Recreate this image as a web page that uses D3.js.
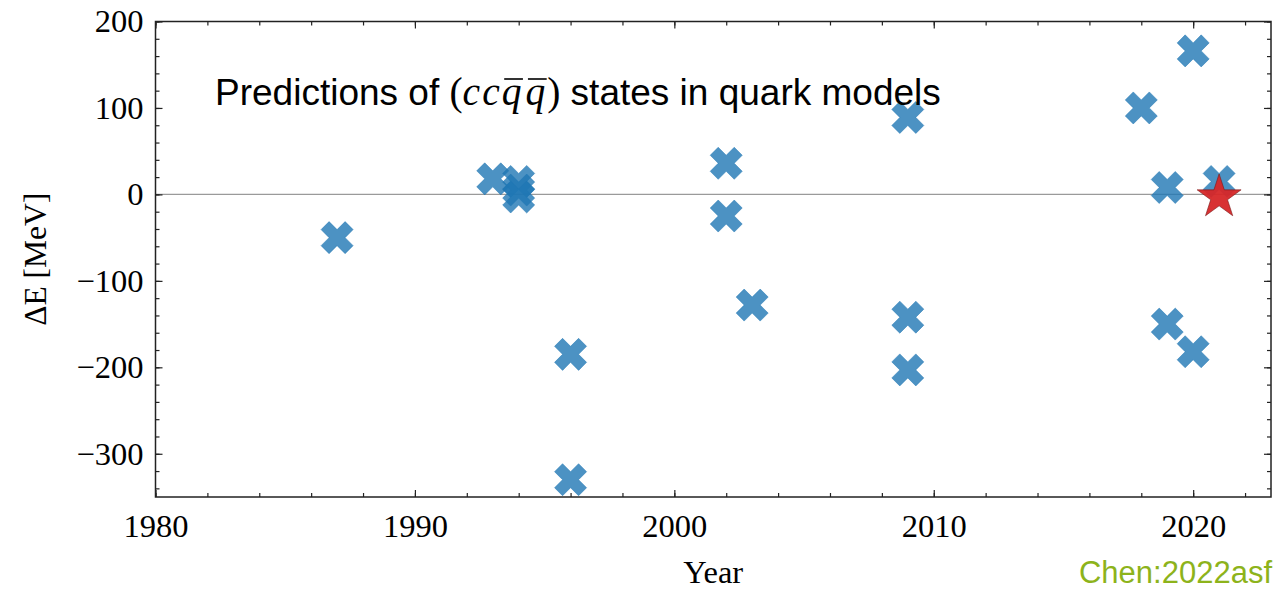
<!DOCTYPE html>
<html>
<head>
<meta charset="utf-8">
<script src="https://cdn.jsdelivr.net/npm/d3@7"></script>
<style>
  html, body { margin: 0; padding: 0; background: #fff; }
  svg { display: block; }
</style>
</head>
<body>
<script>
// ---- data ----
const years  = [1987, 1993, 1994, 1994, 1994, 1996, 1996, 2002, 2002, 2003, 2009, 2009, 2009, 2018, 2019, 2019, 2020, 2020, 2021];
const deltaE = [-50,   18,   15,    5,   -3, -185, -330,   36,  -25, -128,   89, -142, -203,  100,    8, -150,  166, -182,   15];
const starYears  = [2021];
const starDeltaE = [-3];
const xMajorTicks = [1980, 1990, 2000, 2010, 2020];
const yMajorTicks = [-300, -200, -100, 0, 100, 200];

// ---- layout ----
const W = 1281, H = 591;
const L = 155.5, R = 1271, T = 21.5, B = 497;

const svg = d3.select("body").append("svg").attr("width", W).attr("height", H);

const x = d3.scaleLinear().domain([1980, 2023]).range([L, R]);
const y = d3.scaleLinear().domain([-350, 200]).range([B, T]);

const xMinor = d3.range(1980, 2023.01, 2);
const yMinor = d3.range(-340, 200.01, 20);

// zero line
svg.append("line")
  .attr("x1", L).attr("x2", R)
  .attr("y1", y(0)).attr("y2", y(0))
  .attr("stroke", "#9a9a9a").attr("stroke-width", 1.2);

// markers (filled X)
function xPath(cx, cy) {
  const h = 0.5, t = 1 / 6;
  const pts = [[t,-h],[t,-t],[h,-t],[h,t],[t,t],[t,h],[-t,h],[-t,t],[-h,t],[-h,-t],[-t,-t],[-t,-h]];
  const k = 34; const c = Math.SQRT1_2;
  return "M" + pts.map(([px, py]) => {
    const rx = (px - py) * c * k, ry = (px + py) * c * k;
    return [cx + rx, cy + ry].join(",");
  }).join("L") + "Z";
}
const pts = years.map((yr, i) => ({ yr, v: deltaE[i] }));
svg.append("g").selectAll("path").data(pts).join("path")
  .attr("d", d => xPath(x(d.yr), y(d.v)))
  .attr("fill", "#1f77b4").attr("fill-opacity", 0.8)
  .attr("stroke", "#1f77b4").attr("stroke-opacity", 0.8).attr("stroke-width", 0.6);

// star
const star = d3.symbol().type(d3.symbolStar).size(600);
svg.append("g").selectAll("path").data(starYears.map((yr, i) => ({ yr, v: starDeltaE[i] }))).join("path")
  .attr("transform", d => `translate(${x(d.yr)},${y(d.v)})`)
  .attr("d", star)
  .attr("fill", "#d62728").attr("fill-opacity", 0.95)
  .attr("stroke", "#7a1515").attr("stroke-width", 0.6);

// axes
const tickFont = "'Liberation Serif', 'Times New Roman', serif";
function styleAxis(g) {
  g.select(".domain").remove();
  g.selectAll(".tick line").attr("stroke", "#222").attr("stroke-width", 1.2);
  g.selectAll(".tick text").attr("fill", "#000").style("font-family", tickFont).style("font-size", "32.5px");
}
const fmt = d3.format("d");
svg.append("g").attr("transform", `translate(0,${B})`)
  .call(d3.axisBottom(x).tickValues(xMajorTicks).tickSize(-7).tickPadding(17).tickFormat(fmt)).call(styleAxis);
svg.append("g").attr("transform", `translate(0,${B})`)
  .call(d3.axisBottom(x).tickValues(xMinor).tickSize(-4).tickFormat("")).call(styleAxis);
svg.append("g").attr("transform", `translate(0,${T})`)
  .call(d3.axisTop(x).tickValues(xMajorTicks).tickSize(-7).tickFormat("")).call(styleAxis);
svg.append("g").attr("transform", `translate(0,${T})`)
  .call(d3.axisTop(x).tickValues(xMinor).tickSize(-4).tickFormat("")).call(styleAxis);

svg.append("g").attr("transform", `translate(${L},0)`)
  .call(d3.axisLeft(y).tickValues(yMajorTicks).tickSize(-7).tickPadding(12).tickFormat(fmt)).call(styleAxis);
svg.append("g").attr("transform", `translate(${L},0)`)
  .call(d3.axisLeft(y).tickValues(yMinor).tickSize(-4).tickFormat("")).call(styleAxis);
svg.append("g").attr("transform", `translate(${R},0)`)
  .call(d3.axisRight(y).tickValues(yMajorTicks).tickSize(-7).tickFormat("")).call(styleAxis);
svg.append("g").attr("transform", `translate(${R},0)`)
  .call(d3.axisRight(y).tickValues(yMinor).tickSize(-4).tickFormat("")).call(styleAxis);

// frame
svg.append("rect").attr("x", L).attr("y", T).attr("width", R - L).attr("height", B - T)
  .attr("fill", "none").attr("stroke", "#222").attr("stroke-width", 1.5);

// axis labels
svg.append("text").attr("x", (L + R) / 2).attr("y", 583).attr("text-anchor", "middle")
  .style("font-family", tickFont).style("font-size", "32.5px").text("Year");
svg.append("text").attr("transform", `translate(46,${(T + B) / 2}) rotate(-90)`).attr("text-anchor", "middle")
  .style("font-family", tickFont).style("font-size", "31.5px").text("ΔE [MeV]");

// title
const title = svg.append("text").attr("x", 215).attr("y", 105)
  .style("font-family", "'Liberation Sans', Arial, sans-serif").style("font-size", "37px").attr("fill", "#000");
title.append("tspan").text("Predictions of ");
const mathFont = "'Liberation Serif', serif";
const mSize = "39.5px";
title.append("tspan").style("font-family", mathFont).style("font-size", mSize).text("(");
title.append("tspan").style("font-family", mathFont).style("font-size", mSize).style("font-style", "italic")
  .style("letter-spacing", "2px").text("cc");
const q1 = title.append("tspan").style("font-family", mathFont).style("font-size", mSize).style("font-style", "italic")
  .style("letter-spacing", "4px").text("q");
const q2 = title.append("tspan").style("font-family", mathFont).style("font-size", mSize).style("font-style", "italic")
  .style("letter-spacing", "2px").text("q");
title.append("tspan").style("font-family", mathFont).style("font-size", mSize).text(")");
title.append("tspan").text(" states in quark models");

// overbars on the antiquarks
[q1, q2].forEach(q => {
  const n = q.node();
  const x0 = n.getStartPositionOfChar(0).x;
  const x1 = n.getEndPositionOfChar(0).x - (q === q1 ? 4 : 2);
  svg.append("line").attr("x1", x0 + 2.5).attr("x2", x1 + 1.5).attr("y1", 79).attr("y2", 79)
    .attr("stroke", "#000").attr("stroke-width", 1.6);
});

// credit
svg.append("text").attr("x", 1272).attr("y", 583).attr("text-anchor", "end")
  .style("font-family", "'Liberation Sans', Arial, sans-serif").style("font-size", "31px")
  .attr("fill", "#8db31b").text("Chen:2022asf");
</script>
</body>
</html>
